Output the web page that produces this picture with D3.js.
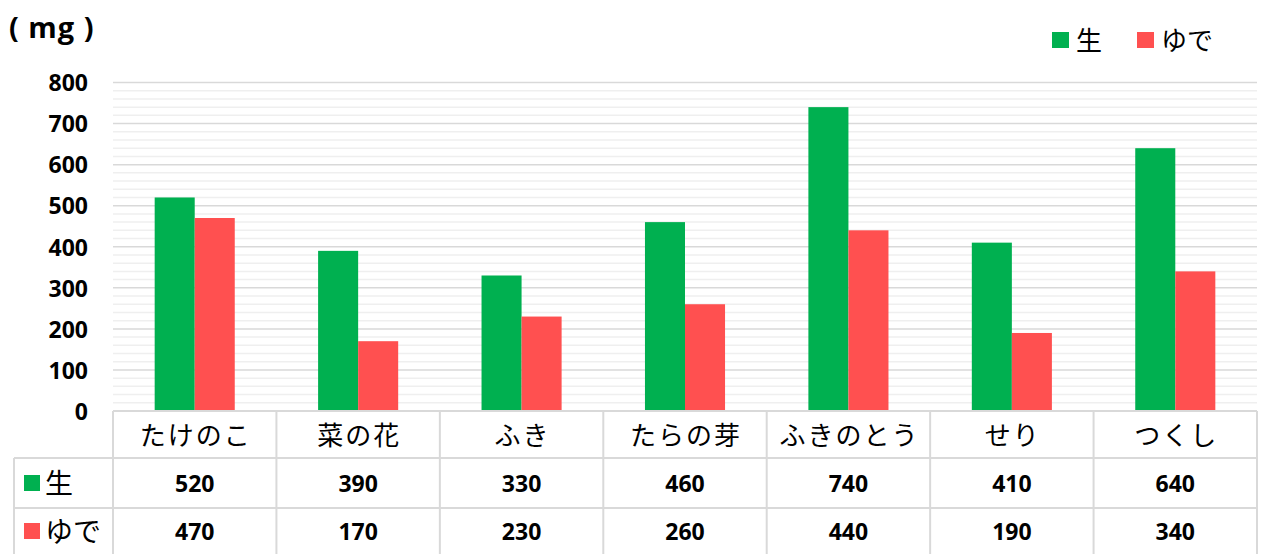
<!DOCTYPE html>
<html><head><meta charset="utf-8">
<script src="https://cdn.jsdelivr.net/npm/d3@7"></script>
<style>body{margin:0;background:#fff;}svg{display:block;}</style>
</head><body>
<script>
const categories = ["たけのこ","菜の花","ふき","たらの芽","ふきのとう","せり","つくし"];
const seriesNames = ["生","ゆで"];
const rawValues = [520,390,330,460,740,410,640];
const boiledValues = [470,170,230,260,440,190,340];
const yTicks = [0,100,200,300,400,500,600,700,800];
const colors = ["#00B050","#FF5050"];
const unitLabel = "( mg )";

(function(){
const W = 1261, H = 554;
const svg = d3.select("body").append("svg").attr("width", W).attr("height", H);
const jp = "'Noto Sans CJK JP', sans-serif";
const num = "'Open Sans', 'DejaVu Sans', sans-serif";

const pl = 113, pr = 1257, pt = 82.5, pb = 411;
const x = d3.scaleBand().domain(categories).range([pl, pr]).paddingInner(0.51).paddingOuter(0.255);
const xCat = d3.scaleBand().domain(categories).range([pl, pr]);
const xs = d3.scaleBand().domain(seriesNames).range([0, x.bandwidth()]);
const y = d3.scaleLinear().domain([0, 800]).range([pb, pt]);

const minor = d3.range(20, 801, 20).filter(v => v % 100 !== 0);
svg.append("g").selectAll("line").data(minor).join("line")
  .attr("x1", pl).attr("x2", pr).attr("y1", d => y(d)).attr("y2", d => y(d))
  .attr("stroke", "#efefef").attr("stroke-width", 1.5);
svg.append("g").selectAll("line").data(yTicks.filter(v => v > 0)).join("line")
  .attr("x1", pl).attr("x2", pr).attr("y1", d => y(d)).attr("y2", d => y(d))
  .attr("stroke", "#d9d9d9").attr("stroke-width", 1.5);

const yAxis = d3.axisLeft(y).tickValues(yTicks).tickSize(0).tickPadding(0);
const ya = svg.append("g").attr("transform", `translate(88,0)`).call(yAxis);
ya.select(".domain").remove();
ya.selectAll("text").attr("font-family", num).attr("font-weight", "bold").attr("font-size", 23).attr("fill", "#000").attr("dy", "0.36em");

svg.append("text").attr("x", 9).attr("y", 38).text(unitLabel)
  .attr("font-family", num).attr("font-weight", "bold").attr("font-size", 29).attr("fill", "#000")
  .attr("letter-spacing", 1).attr("xml:space", "preserve").style("white-space", "pre");

const data = [rawValues, boiledValues];
seriesNames.forEach((s, si) => {
  svg.append("g").selectAll("rect").data(categories).join("rect")
    .attr("x", c => x(c) + xs(s)).attr("width", xs.bandwidth())
    .attr("y", (c, i) => y(data[si][i])).attr("height", (c, i) => pb - y(data[si][i]))
    .attr("fill", colors[si]);
});

const legX = [1052, 1137];
seriesNames.forEach((s, si) => {
  svg.append("rect").attr("x", legX[si]).attr("y", 32).attr("width", 17).attr("height", 16).attr("fill", colors[si]);
  svg.append("text").attr("x", legX[si] + 24).attr("y", 50).text(s)
    .attr("font-family", jp).attr("font-size", 26).attr("fill", "#000");
});

const rowY = [411, 458, 508, 554];
const tl = "#d9d9d9";
const tg = svg.append("g").attr("stroke", tl).attr("stroke-width", 2);
tg.append("line").attr("x1", pl).attr("x2", pr).attr("y1", rowY[0]).attr("y2", rowY[0]);
tg.append("line").attr("x1", 14).attr("x2", pr).attr("y1", rowY[1]).attr("y2", rowY[1]);
tg.append("line").attr("x1", 14).attr("x2", pr).attr("y1", rowY[2]).attr("y2", rowY[2]);
tg.append("line").attr("x1", 14).attr("x2", 14).attr("y1", rowY[1]).attr("y2", H);
tg.selectAll(".v").data(categories.concat(["end"])).join("line")
  .attr("x1", (c, i) => pl + i * xCat.step()).attr("x2", (c, i) => pl + i * xCat.step())
  .attr("y1", rowY[0]).attr("y2", H);

svg.append("g").selectAll("text").data(categories).join("text")
  .attr("x", c => xCat(c) + xCat.bandwidth() / 2 + 1).attr("y", 445).attr("text-anchor", "middle")
  .text(c => c).attr("font-family", jp).attr("font-size", 26).attr("fill", "#000").attr("letter-spacing", 2);

const rowCenters = [484, 532];
seriesNames.forEach((s, si) => {
  svg.append("rect").attr("x", 24).attr("y", rowCenters[si] - 9).attr("width", 16).attr("height", 16).attr("fill", colors[si]);
  svg.append("text").attr("x", 45).attr("y", rowCenters[si] + 10).text(s)
    .attr("font-family", jp).attr("font-size", 28).attr("fill", "#000");
  svg.append("g").selectAll("text").data(categories).join("text")
    .attr("x", c => xCat(c) + xCat.bandwidth() / 2).attr("y", rowCenters[si]).attr("dy", "0.36em")
    .attr("text-anchor", "middle").text((c, i) => data[si][i])
    .attr("font-family", num).attr("font-weight", "bold").attr("font-size", 23).attr("fill", "#000");
});
})();
</script>
</body></html>
